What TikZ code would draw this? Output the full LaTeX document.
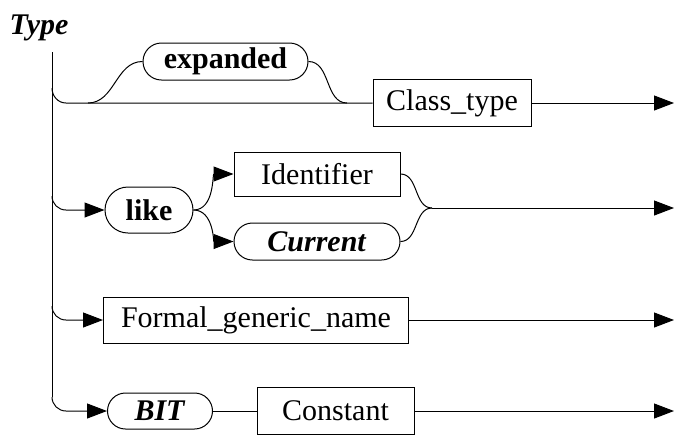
\documentclass[tikz,border=0pt]{standalone}
\usepackage{fontspec}
\setmainfont{Liberation Serif}
\usetikzlibrary{arrows.meta}
\usetikzlibrary{shapes.misc}

\begin{document}
\begin{tikzpicture}[x=1pt,y=-1pt,line width=1pt,font=\fontsize{30}{36}\selectfont,
  term/.style={draw,rectangle,inner sep=0pt},
  kw/.style={draw,rounded rectangle,inner sep=0pt},
  arr/.style={-{Triangle[length=20pt,width=15pt]}}]
\useasboundingbox (0,0) rectangle (683,440);
\node[anchor=base] (type) at (39,34) {\textbf{\textit{Type}}};
\node[kw,minimum width=165pt,minimum height=37pt] (expanded) at (225.5,61.5) {\textbf{expanded}};
\node[term,minimum width=158pt,minimum height=47pt] (class) at (452,103) {Class\_type};
\node[kw,minimum width=88pt,minimum height=46pt] (like) at (149,210) {\textbf{like}};
\node[term,minimum width=166pt,minimum height=44pt] (ident) at (317,174) {Identifier};
\node[kw,minimum width=166pt,minimum height=37pt] (current) at (317,241.5) {\textbf{\textit{Current}}};
\node[term,minimum width=305pt,minimum height=46pt] (formal) at (256,320) {Formal\_generic\_name};
\node[kw,minimum width=105pt,minimum height=36pt] (bit) at (160,411) {\textbf{\textit{BIT}}};
\node[term,minimum width=157pt,minimum height=47pt] (const) at (335.5,411) {Constant};

\coordinate (top) at (52,52);
\coordinate (j1) at (52,88);
\coordinate (r1) at (66,103);
\coordinate (b1) at (88,103);
\coordinate (b2) at (347,103);
\coordinate (o1) at (674,103);
\coordinate (j2) at (52,196);
\coordinate (r2) at (66,210);
\coordinate (m2) at (432,208);
\coordinate (o2) at (674,208);
\coordinate (j3) at (52,306);
\coordinate (r3) at (66,320);
\coordinate (o3) at (674,320);
\coordinate (j4) at (52,397);
\coordinate (r4) at (66,411);
\coordinate (o4) at (674,411);

% main stem and branches
\draw (top) -- (j4);
\draw (j1) to[out=-90,in=180] (r1) -- (class.west);
\draw (b1) to[out=0,in=180] (expanded.west);
\draw (expanded.east) to[out=0,in=180] (b2);
\draw[arr] (j2) to[out=-90,in=180] (r2) -- (like.west);
\draw[arr] (j3) to[out=-90,in=180] (r3) -- (formal.west);
\draw[arr] (j4) to[out=-90,in=180] (r4) -- (bit.west);

\path
(class.east) edge[arr] (o1)
(like.east) edge[arr,out=0,in=180] (ident.west)
(like.east) edge[arr,out=0,in=180] (current.west)
(ident.east) edge[out=0,in=180] (m2)
(current.east) edge[out=0,in=180] (m2)
(m2) edge[arr] (o2)
(formal.east) edge[arr] (o3)
(bit.east) edge[-] (const.west)
(const.east) edge[arr] (o4);
\end{tikzpicture}
\end{document}
